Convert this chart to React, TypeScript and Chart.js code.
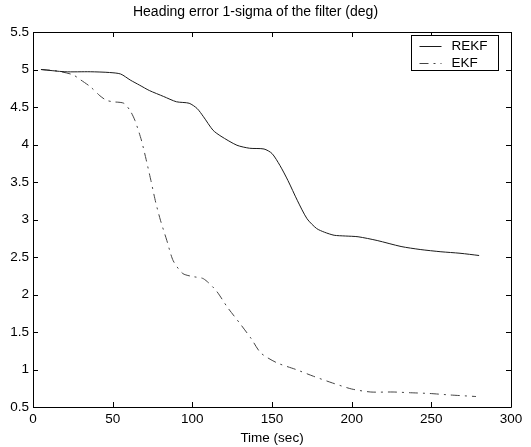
import React, { useEffect, useRef } from "react";
import { Chart, registerables } from "chart.js";

Chart.register(...registerables);

const titleText = "Heading error 1-sigma of the filter (deg)";
const xTitle = "Time (sec)";
const xTicks = [0, 50, 100, 150, 200, 250, 300];
const yTicks = [0.5, 1, 1.5, 2, 2.5, 3, 3.5, 4, 4.5, 5, 5.5];

const rekfTime = [5, 20, 36, 48, 55, 61, 67, 73, 82, 90, 98, 103, 107, 113, 118, 128, 136, 145, 150, 155, 160, 166, 172, 178, 183, 189, 196, 204, 216, 231, 243, 256, 268, 280];
const rekfSigma = [5.0, 4.97, 4.97, 4.96, 4.94, 4.86, 4.79, 4.72, 4.64, 4.57, 4.55, 4.48, 4.37, 4.19, 4.11, 3.99, 3.95, 3.94, 3.88, 3.72, 3.52, 3.25, 3.01, 2.88, 2.83, 2.79, 2.78, 2.77, 2.72, 2.64, 2.60, 2.57, 2.55, 2.52];

const ekfTime = [5, 15, 25, 30, 36, 42, 46, 50, 57, 61, 64, 68, 71, 74, 77, 80, 84, 88, 94, 100, 107, 115, 122, 130, 137, 143, 153, 165, 176, 188, 200, 212, 226, 237, 249, 262, 278];
const ekfSigma = [5.0, 4.98, 4.93, 4.86, 4.77, 4.65, 4.59, 4.57, 4.55, 4.45, 4.32, 4.06, 3.8, 3.52, 3.23, 2.99, 2.72, 2.45, 2.28, 2.24, 2.21, 2.05, 1.83, 1.61, 1.41, 1.22, 1.09, 1.0, 0.91, 0.82, 0.74, 0.7, 0.7, 0.69, 0.68, 0.66, 0.64];

const FONT = "'Liberation Sans', Arial, Helvetica, sans-serif";
const TICK_SIZE = 13.5;

const framePlugin = {
  id: "frame",
  afterDraw(chart: any) {
    const { ctx, chartArea: a, scales } = chart;
    const xs = scales.x;
    const ys = scales.y;
    ctx.save();
    ctx.strokeStyle = "#000";
    ctx.lineWidth = 1;
    ctx.beginPath();
    ctx.rect(Math.round(a.left) + 0.5, Math.round(a.top) + 0.5, Math.round(a.right - a.left), Math.round(a.bottom - a.top));
    ctx.stroke();
    const L = 5;
    ctx.beginPath();
    xTicks.forEach((v) => {
      const px = Math.round(xs.getPixelForValue(v)) + 0.5;
      ctx.moveTo(px, a.bottom);
      ctx.lineTo(px, a.bottom - L);
      ctx.moveTo(px, a.top);
      ctx.lineTo(px, a.top + L);
    });
    yTicks.forEach((v) => {
      const py = Math.round(ys.getPixelForValue(v)) + 0.5;
      ctx.moveTo(a.left, py);
      ctx.lineTo(a.left + L, py);
      ctx.moveTo(a.right, py);
      ctx.lineTo(a.right - L, py);
    });
    ctx.stroke();

    // legend box inside the plot area
    const bx = Math.round(a.right) - 99.5;
    const by = Math.round(a.top) + 3.5;
    const bw = 87;
    const bh = 35;
    ctx.fillStyle = "#fff";
    ctx.fillRect(bx, by, bw, bh);
    ctx.strokeStyle = "#000";
    ctx.setLineDash([]);
    ctx.strokeRect(bx, by, bw, bh);
    ctx.font = `${TICK_SIZE}px ${FONT}`;
    ctx.textBaseline = "middle";
    ctx.textAlign = "left";
    chart.data.datasets.forEach((ds: any, i: number) => {
      const y = Math.round(by + 10 + i * 17) + 0.5;
      ctx.strokeStyle = ds.borderColor;
      ctx.lineWidth = 1;
      ctx.setLineDash(ds.borderDash || []);
      ctx.beginPath();
      ctx.moveTo(bx + 8, y);
      ctx.lineTo(bx + 30, y);
      ctx.stroke();
      ctx.setLineDash([]);
      ctx.fillStyle = "#000";
      ctx.fillText(ds.label, bx + 40, y);
    });
    ctx.restore();
  },
};

export default function App() {
  const ref = useRef<HTMLCanvasElement>(null);
  useEffect(() => {
    document.body.style.margin = "0";
    const chart = new Chart(ref.current!, {
      type: "line",
      data: {
        datasets: [
          {
            label: "REKF",
            data: rekfTime.map((t, i) => ({ x: t, y: rekfSigma[i] })),
            borderColor: "#1a1a1a",
            borderWidth: 1,
            pointRadius: 0,
            tension: 0.25,
            fill: false,
          },
          {
            label: "EKF",
            data: ekfTime.map((t, i) => ({ x: t, y: ekfSigma[i] })),
            borderColor: "#444",
            borderWidth: 1,
            borderDash: [9, 5, 2, 5],
            pointRadius: 0,
            tension: 0.25,
            fill: false,
          },
        ],
      },
      options: {
        animation: false,
        responsive: false,
        maintainAspectRatio: false,
        layout: { padding: { left: 0, right: 20, top: 0, bottom: 0 } },
        plugins: {
          legend: { display: false },
          tooltip: { enabled: false },
          title: {
            display: true,
            text: titleText,
            color: "#000",
            font: { family: FONT, size: 14, weight: "normal" },
            padding: { top: 4, bottom: 11.2 },
          },
        },
        scales: {
          x: {
            type: "linear",
            min: 0,
            max: 300,
            afterBuildTicks: (s: any) => {
              s.ticks = xTicks.map((v) => ({ value: v }));
            },
            afterFit: (s: any) => {
              s.height = 40;
            },
            grid: { display: false, drawTicks: false },
            border: { display: false },
            ticks: {
              color: "#000",
              font: { family: FONT, size: TICK_SIZE },
              padding: 4,
              maxRotation: 0,
              autoSkip: false,
            },
            title: {
              display: true,
              text: xTitle,
              color: "#000",
              font: { family: FONT, size: TICK_SIZE },
              padding: { top: 2, bottom: 1 },
            },
          },
          y: {
            type: "linear",
            min: 0.5,
            max: 5.5,
            afterBuildTicks: (s: any) => {
              s.ticks = yTicks.map((v) => ({ value: v }));
            },
            afterFit: (s: any) => {
              s.width = 33;
            },
            grid: { display: false, drawTicks: false },
            border: { display: false },
            ticks: {
              color: "#000",
              font: { family: FONT, size: TICK_SIZE },
              padding: 4,
              autoSkip: false,
              callback: (v: any) => String(v),
            },
          },
        },
      },
      plugins: [framePlugin],
    });
    return () => chart.destroy();
  }, []);
  return (
    <div style={{ width: 531, height: 447 }}>
      <canvas ref={ref} width={531} height={447} style={{ display: "block" }} />
    </div>
  );
}
